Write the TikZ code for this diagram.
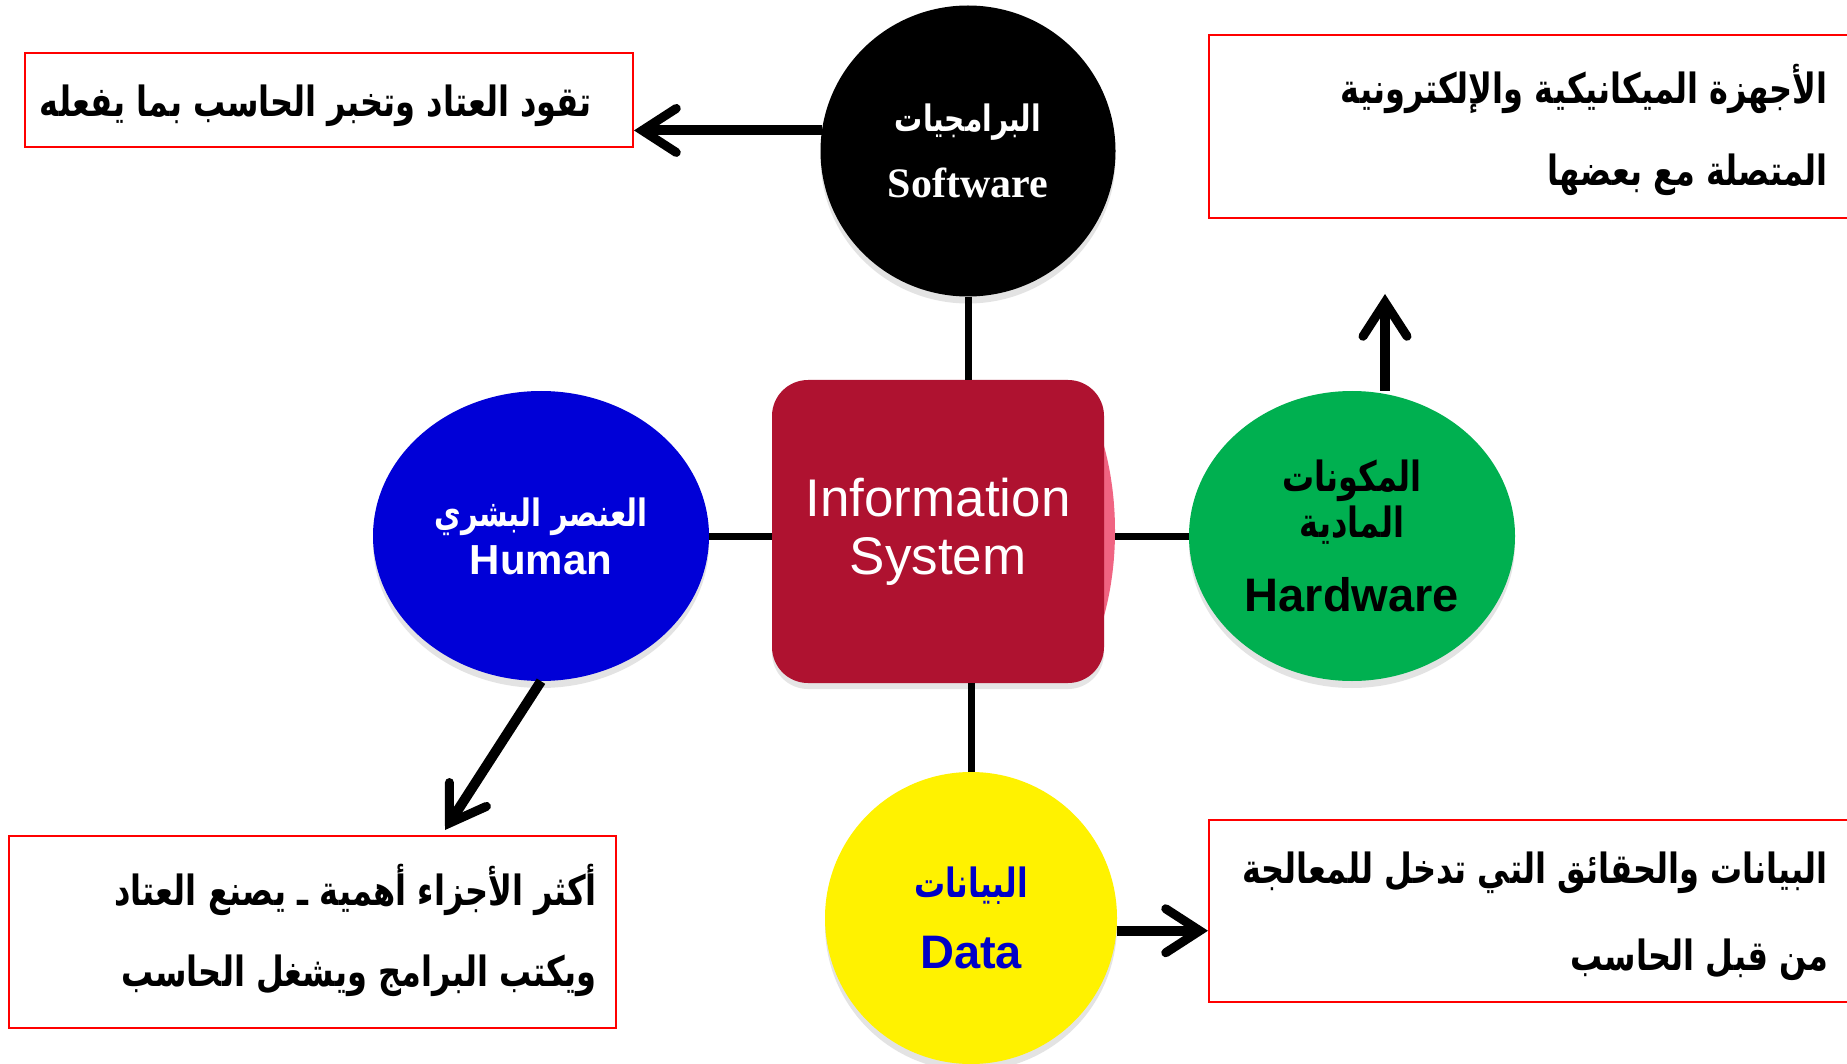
\documentclass[tikz,border=0pt]{standalone}
\usepackage{fontspec}
\setmainfont{Liberation Serif}
\setsansfont{Liberation Sans}
\newfontfamily\arabicfont[Script=Arabic]{DejaVu Sans}
\TeXXeTstate=1
\usetikzlibrary{shapes.geometric,arrows.meta,shadows,calc}
\newcommand{\AR}[1]{\scalebox{1}[1.3]{\arabicfont\bfseries\beginR #1\endR}}
\definecolor{isred}{RGB}{175,18,48}
\definecolor{pinkb}{RGB}{240,100,130}
\definecolor{hublue}{RGB}{0,0,215}
\definecolor{hwgreen}{RGB}{0,176,80}
\definecolor{dtblue}{RGB}{0,0,200}
\begin{document}
\begin{tikzpicture}[x=1pt,y=-1pt,
  conn/.style={line width=7pt},
  arr/.style={line width=10pt,-{Straight Barb[length=34pt,width=44pt,line width=9pt,line cap=round]}},
  note/.style={draw=red,line width=2pt,fill=white,inner sep=0pt},
  notetext/.style={inner sep=0pt,font=\fontsize{32}{38}\selectfont,anchor=east},
  comp/.style={ellipse,inner sep=0pt,align=center,
    drop shadow={opacity=0.22,shadow xshift=0pt,shadow yshift=-7pt}},
]
\clip (0,0) rectangle (1847,1064);
\fill[white] (0,0) rectangle (1847,1064);

% note boxes
\node[note,minimum width=608pt,minimum height=94pt] (b1) at (329,100) {};
\node[note,minimum width=652pt,minimum height=183pt] (b2) at (1535,126.5) {};
\node[note,minimum width=652pt,minimum height=182pt] (b3) at (1535,911) {};
\node[note,minimum width=607pt,minimum height=192pt] (b4) at (312.5,932) {};

\node[notetext,anchor=center] (t1) at (316,106) {\AR{تقود العتاد وتخبر الحاسب بما يفعله}};
\node[notetext] (t2a) at (1828,89) {\AR{الأجهزة الميكانيكية والإلكترونية}};
\node[notetext] (t2b) at (1828,175) {\AR{المتصلة مع بعضها}};
\node[notetext] (t3a) at (1828,873) {\AR{البيانات والحقائق التي تدخل للمعالجة}};
\node[notetext] (t3b) at (1828,960) {\AR{من قبل الحاسب}};
\node[notetext] (t4a) at (597,890) {\AR{أكثر الأجزاء أهمية ـ يصنع العتاد}};
\node[notetext] (t4b) at (597,976) {\AR{ويكتب البرامج ويشغل الحاسب}};

% pink bump (only its right part shows) and centre
\begin{scope}
  \clip (1000,440) rectangle (1200,622);
  \node[ellipse,fill=pinkb,minimum width=230pt,minimum height=398pt,inner sep=0pt] (pk) at (1000,531) {};
\end{scope}
\node[rectangle,rounded corners=36pt,fill=isred,minimum width=332pt,minimum height=303pt,
  inner sep=0pt,align=center,text=white,
  font=\sffamily\fontsize{53}{58}\selectfont,
  drop shadow={opacity=0.2,shadow xshift=0pt,shadow yshift=-6pt}] (is) at (938,531.5)
  {Information\\System};

% components
\node[comp,fill=black,minimum width=295pt,minimum height=291pt,text=white] (sw) at (968,151)
  {{\fontsize{28}{30}\selectfont\AR{البرامجيات}}\\[26pt]
   {\rmfamily\bfseries\fontsize{42}{44}\selectfont Software}};
\node[comp,fill=hublue,minimum width=336pt,minimum height=290pt,text=white] (hm) at (541,536)
  {{\fontsize{29}{30}\selectfont\AR{العنصر البشري}}\\[9pt]
   {\sffamily\bfseries\fontsize{42}{44}\selectfont Human}};
\node[comp,fill=hwgreen,minimum width=326pt,minimum height=290pt,text=black] (hw) at (1352,536)
  {{\fontsize{32}{34}\selectfont\AR{المكونات}}\\[4pt]
   {\fontsize{32}{34}\selectfont\AR{المادية}}\\[32pt]
   {\sffamily\bfseries\fontsize{47}{50}\selectfont Hardware}};
\node[comp,fill=yellow,minimum width=292pt,minimum height=292pt,text=dtblue] (dt) at (971,918)
  {{\fontsize{31}{34}\selectfont\AR{البيانات}}\\[30pt]
   {\sffamily\bfseries\fontsize{47}{50}\selectfont Data}};

% connectors
\draw[conn] (sw.south) -- (sw.south |- is.north);
\draw[conn] (hm.east) -- (hm.east -| is.west);
\draw[conn] (hw.west) -- (hw.west -| pk.east);
\draw[conn] (dt.north) -- (dt.north |- is.south);

% arrows
\coordinate (hwtip) at (1385,294);
\coordinate (hmtip) at (445,830);
\draw[arr] (sw.172.6) -- (b1.east |- sw.172.6);
\draw[arr] (hwtip |- hw.north) -- (hwtip);
\draw[arr] (hm.south) -- (hmtip);
\draw[arr] (dt.-5.9) -- (b3.west |- dt.-5.9);
\end{tikzpicture}
\end{document}
